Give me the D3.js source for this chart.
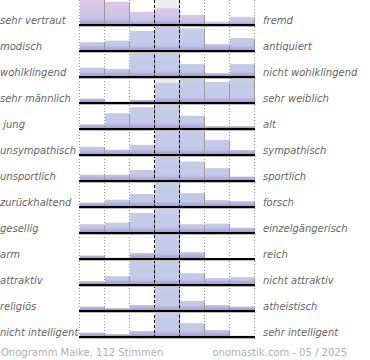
<!DOCTYPE html>
<html>
<head>
<meta charset="utf-8">
<script src="https://cdn.jsdelivr.net/npm/d3@7"></script>
<style>
  html, body { margin: 0; padding: 0; background: #fff; }
  svg { display: block; }
</style>
</head>
<body>
<script>
// ---- data ----
const leftLabels = ["sehr vertraut","modisch","wohlklingend","sehr männlich"," jung","unsympathisch","unsportlich","zurückhaltend","gesellig","arm","attraktiv","religiös","nicht intelligent"];
const rightLabels = ["fremd","antiquiert","nicht wohlklingend","sehr weiblich","alt","sympathisch","sportlich","forsch","einzelgängerisch","reich","nicht attraktiv","atheistisch","sehr intelligent"];
const scalePoints = [1,2,3,4,5,6,7];
// relative share of votes per scale point (row maximum = 100)
const row01 = [100, 93, 51, 65, 38, 10, 30];
const row02 = [32, 39, 80, 100, 90, 25, 49];
const row03 = [35, 30, 100, 100, 49, 11, 49];
const row04 = [14, 1, 8, 80, 98, 83, 100];
const row05 = [15, 61, 86, 100, 51, 7, 7];
const row06 = [30, 18, 38, 96, 100, 59, 16];
const row07 = [22, 22, 42, 100, 77, 49, 14];
const row08 = [14, 26, 50, 100, 54, 24, 20];
const row09 = [32, 39, 80, 100, 32, 35, 18];
const row10 = [10, 1, 21, 100, 24, 0, 0];
const row11 = [11, 32, 97, 100, 45, 24, 28];
const row12 = [14, 7, 21, 100, 38, 21, 14];
const row13 = [14, 7, 21, 100, 53, 25, 1];
const rows = [row01,row02,row03,row04,row05,row06,row07,row08,row09,row10,row11,row12,row13];
const footerLeft = "Onogramm Maike, 112 Stimmen";
const footerRight = "onomastik.com - 05 / 2025";

// ---- layout ----
const W = 370, H = 360;
const svg = d3.select("body").append("svg").attr("width", W).attr("height", H);

const x = d3.scaleBand().domain(scalePoints).range([79.5, 254.5]).padding(0);
const rowY = d3.scaleLinear().domain([0, 1]).range([25, 51]); // baseline per row index
const h = d3.scaleLinear().domain([0, 100]).range([0, 24]);

const defs = svg.append("defs");
const g1 = defs.append("linearGradient").attr("id","gradTop").attr("x1",0).attr("y1",0).attr("x2",0).attr("y2",1);
g1.append("stop").attr("offset","0%").attr("stop-color","#dfc7e6");
g1.append("stop").attr("offset","75%").attr("stop-color","#c3c6e6");
g1.append("stop").attr("offset","100%").attr("stop-color","#a99cd2");
const g2 = defs.append("linearGradient").attr("id","gradRow").attr("gradientUnits","userSpaceOnUse")
  .attr("x1",0).attr("y1",0).attr("x2",0).attr("y2",24);
g2.append("stop").attr("offset","0%").attr("stop-color","#c8cdea");
g2.append("stop").attr("offset","80%").attr("stop-color","#c2c8e7");
g2.append("stop").attr("offset","100%").attr("stop-color","#a99cd2");

const band = x.bandwidth();

// middle column background
rows.forEach((r, i) => {
  const base = rowY(i);
  svg.append("rect").attr("x", x(4)).attr("y", i === 0 ? 0 : base - 25)
    .attr("width", band).attr("height", i === 0 ? base : 25).attr("fill", "#eeeeee");
});

// dotted grid lines
const bounds = [1,2,3,5,6,7].map(d => x(d)).concat([x(7) + band]);
svg.selectAll("line.dot").data(bounds).enter().append("line")
  .attr("x1", d => d).attr("x2", d => d).attr("y1", 0).attr("y2", rowY(12))
  .attr("stroke", "#999").attr("stroke-width", 1).attr("stroke-dasharray", "1,2");

// bars
rows.forEach((r, i) => {
  const base = rowY(i) - 1;
  const g = svg.append("g").attr("transform", `translate(0,${base - 24})`);
  const data = r.map((v, k) => ({k: scalePoints[k], v}));
  g.selectAll("rect.sh").data(data.filter(d => d.v > 0)).enter().append("rect")
    .attr("x", d => x(d.k) + 1.5).attr("y", d => 24 - h(d.v) + 0.5)
    .attr("width", band - 1).attr("height", d => h(d.v) - 0.5).attr("fill", "#9a9a9a");
  g.selectAll("rect.bar").data(data.filter(d => d.v > 0)).enter().append("rect")
    .attr("x", d => x(d.k) + 0.5).attr("y", d => 24 - h(d.v))
    .attr("width", band - 1).attr("height", d => h(d.v))
    .attr("fill", i === 0 ? "url(#gradTop)" : "url(#gradRow)");
});

// dashed centre lines
[x(4), x(5)].forEach(px => {
  svg.append("line").attr("x1", px).attr("x2", px).attr("y1", 0).attr("y2", rowY(12))
    .attr("stroke", "#000").attr("stroke-width", 1).attr("stroke-dasharray", "3,2");
});

// baselines
rows.forEach((r, i) => {
  const base = rowY(i);
  svg.append("line").attr("x1", 79).attr("x2", 256).attr("y1", base + 1.5).attr("y2", base + 1.5)
    .attr("stroke", "#bbb").attr("stroke-width", 1);
  svg.append("line").attr("x1", 79).attr("x2", 255).attr("y1", base).attr("y2", base)
    .attr("stroke", "#000").attr("stroke-width", 2);
});

// labels
const font = "'DejaVu Sans', Verdana, sans-serif";
svg.selectAll("text.l").data(leftLabels).enter().append("text")
  .attr("x", 0).attr("y", (d, i) => rowY(i) - 1)
  .attr("font-family", font).attr("font-size", 10).attr("font-style", "italic")
  .attr("fill", "#666").style("white-space", "pre").text(d => d);
svg.selectAll("text.r").data(rightLabels).enter().append("text")
  .attr("x", 263).attr("y", (d, i) => rowY(i) - 1)
  .attr("font-family", font).attr("font-size", 10).attr("font-style", "italic")
  .attr("fill", "#666").text(d => d);

svg.append("text").attr("x", 1).attr("y", 356).attr("font-family", font).attr("font-size", 10)
  .attr("fill", "#b0b0b0").text(footerLeft);
svg.append("text").attr("x", 347).attr("y", 356).attr("text-anchor", "end").attr("font-family", font).attr("font-size", 10)
  .attr("fill", "#b0b0b0").text(footerRight);
</script>
</body>
</html>
